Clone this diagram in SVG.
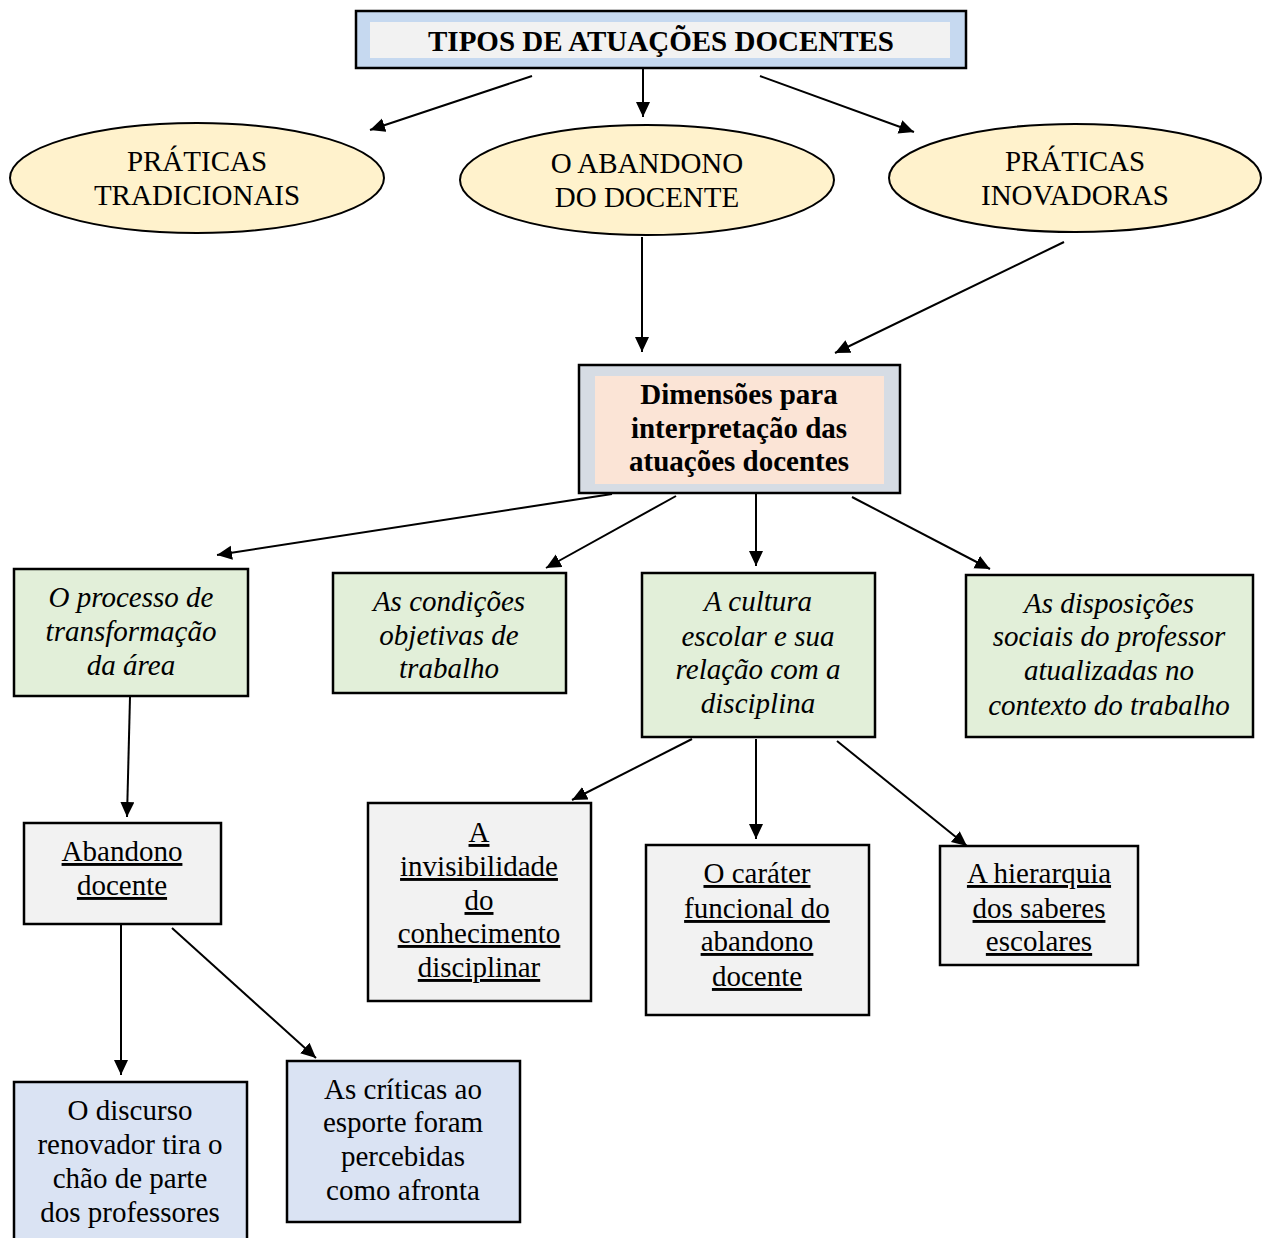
<svg xmlns="http://www.w3.org/2000/svg" width="1266" height="1238" viewBox="0 0 1266 1238" font-family="'Liberation Serif', 'DejaVu Serif', serif">
  <style>
    text { font-family: "Liberation Serif", "DejaVu Serif", serif; font-size: 29px; fill: #000; text-anchor: middle; }
    .b { font-weight: bold; }
    .i { font-style: italic; }
    .u { text-decoration: underline; }
    .frame { stroke: #000; stroke-width: 2.5; }
    .ell { fill: #fff2cc; stroke: #000; stroke-width: 2; }
    .green { fill: #e2efd9; stroke: #000; stroke-width: 2.5; }
    .gray { fill: #f2f2f2; stroke: #000; stroke-width: 2.5; }
    .blue { fill: #dae3f3; stroke: #000; stroke-width: 2.5; }
    .conn line { stroke: #000; stroke-width: 2; marker-end: url(#arrow); }
  </style>
  <defs>
    <marker id="arrow" markerUnits="userSpaceOnUse" markerWidth="16" markerHeight="16" refX="15" refY="7" orient="auto">
      <path d="M0,0 L15,7 L0,14 z" fill="#000"/>
    </marker>
  </defs>
  <rect width="1266" height="1238" fill="#fff"/>

  <!-- title -->
  <g id="tipos">
    <rect class="frame" x="356" y="11" width="610" height="57" fill="#c6d9f0"/>
    <rect x="370" y="22" width="580" height="36" fill="#f2f2f2"/>
    <text class="b" x="661" y="51">TIPOS DE ATUAÇÕES DOCENTES</text>
  </g>

  <!-- practice ellipses -->
  <g id="tradicionais">
    <ellipse class="ell" cx="197" cy="178" rx="187" ry="55"/>
    <text x="197" y="171">PRÁTICAS</text>
    <text x="197" y="205">TRADICIONAIS</text>
  </g>
  <g id="abandono-docente">
    <ellipse class="ell" cx="647" cy="180" rx="187" ry="55"/>
    <text x="647" y="173">O ABANDONO</text>
    <text x="647" y="207">DO DOCENTE</text>
  </g>
  <g id="inovadoras">
    <ellipse class="ell" cx="1075" cy="178" rx="186" ry="54"/>
    <text x="1075" y="171">PRÁTICAS</text>
    <text x="1075" y="205">INOVADORAS</text>
  </g>

  <!-- dimensions box -->
  <g id="dimensoes">
    <rect class="frame" x="579" y="365" width="321" height="128" fill="#d6dce4"/>
    <rect x="595" y="376" width="289" height="108" fill="#fbe4d6"/>
    <text class="b" x="739" y="404">Dimensões para</text>
    <text class="b" x="739" y="438">interpretação das</text>
    <text class="b" x="739" y="471">atuações docentes</text>
  </g>

  <!-- dimensions -->
  <g id="processo">
    <rect class="green" x="14" y="569" width="234" height="127"/>
    <text class="i" x="131" y="607">O processo de</text>
    <text class="i" x="131" y="641">transformação</text>
    <text class="i" x="131" y="675">da área</text>
  </g>
  <g id="condicoes">
    <rect class="green" x="333" y="573" width="233" height="120"/>
    <text class="i" x="449" y="611">As condições</text>
    <text class="i" x="449" y="645">objetivas de</text>
    <text class="i" x="449" y="678">trabalho</text>
  </g>
  <g id="cultura">
    <rect class="green" x="642" y="573" width="233" height="164"/>
    <text class="i" x="758" y="611">A cultura</text>
    <text class="i" x="758" y="646">escolar e sua</text>
    <text class="i" x="758" y="679">relação com a</text>
    <text class="i" x="758" y="713">disciplina</text>
  </g>
  <g id="disposicoes">
    <rect class="green" x="966" y="575" width="287" height="162"/>
    <text class="i" x="1109" y="613">As disposições</text>
    <text class="i" x="1109" y="646">sociais do professor</text>
    <text class="i" x="1109" y="680">atualizadas no</text>
    <text class="i" x="1109" y="715">contexto do trabalho</text>
  </g>

  <!-- categories -->
  <g id="abandono">
    <rect class="gray" x="24" y="823" width="197" height="101"/>
    <text class="u" x="122" y="861">Abandono</text>
    <text class="u" x="122" y="895">docente</text>
  </g>
  <g id="invisibilidade">
    <rect class="gray" x="368" y="803" width="223" height="198"/>
    <text class="u" x="479" y="842">A</text>
    <text class="u" x="479" y="876">invisibilidade</text>
    <text class="u" x="479" y="910">do</text>
    <text class="u" x="479" y="943">conhecimento</text>
    <text class="u" x="479" y="977">disciplinar</text>
  </g>
  <g id="carater">
    <rect class="gray" x="646" y="845" width="223" height="170"/>
    <text class="u" x="757" y="883">O caráter</text>
    <text class="u" x="757" y="918">funcional do</text>
    <text class="u" x="757" y="951">abandono</text>
    <text class="u" x="757" y="986">docente</text>
  </g>
  <g id="hierarquia">
    <rect class="gray" x="940" y="846" width="198" height="119"/>
    <text class="u" x="1039" y="883">A hierarquia</text>
    <text class="u" x="1039" y="918">dos saberes</text>
    <text class="u" x="1039" y="951">escolares</text>
  </g>

  <!-- findings -->
  <g id="discurso">
    <rect class="blue" x="14" y="1082" width="233" height="170"/>
    <text x="130" y="1120">O discurso</text>
    <text x="130" y="1154">renovador tira o</text>
    <text x="130" y="1188">chão de parte</text>
    <text x="130" y="1222">dos professores</text>
  </g>
  <g id="criticas">
    <rect class="blue" x="287" y="1061" width="233" height="161"/>
    <text x="403" y="1099">As críticas ao</text>
    <text x="403" y="1132">esporte foram</text>
    <text x="403" y="1166">percebidas</text>
    <text x="403" y="1200">como afronta</text>
  </g>

  <!-- connectors -->
  <g id="connectors" class="conn">
    <line x1="532" y1="76" x2="370" y2="130"/>
    <line x1="643" y1="69" x2="643" y2="117"/>
    <line x1="760" y1="76" x2="914" y2="132"/>
    <line x1="642" y1="237" x2="642" y2="352"/>
    <line x1="1064" y1="242" x2="835" y2="353"/>
    <line x1="612" y1="494" x2="217" y2="555"/>
    <line x1="676" y1="496" x2="546" y2="568"/>
    <line x1="756" y1="493" x2="756" y2="566"/>
    <line x1="852" y1="497" x2="990" y2="569"/>
    <line x1="130" y1="697" x2="127" y2="817"/>
    <line x1="121" y1="925" x2="121" y2="1075"/>
    <line x1="172" y1="928" x2="316" y2="1058"/>
    <line x1="692" y1="739" x2="572" y2="800"/>
    <line x1="756" y1="739" x2="756" y2="839"/>
    <line x1="837" y1="741" x2="967" y2="846"/>
  </g>
</svg>
